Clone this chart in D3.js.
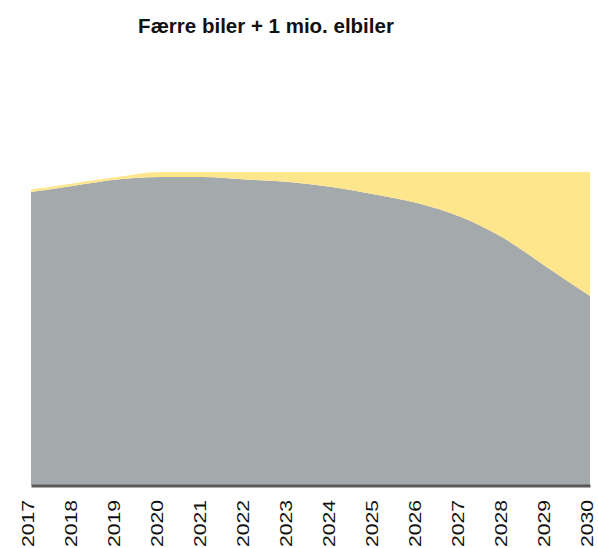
<!DOCTYPE html>
<html>
<head>
<meta charset="utf-8">
<script src="https://cdn.jsdelivr.net/npm/d3@7"></script>
<style>
  body { margin: 0; background: #fff; }
  svg { display: block; font-family: "Liberation Sans", Arial, sans-serif; }
</style>
</head>
<body>
<svg id="chart" width="598" height="548"></svg>
<script>
// years on the x axis
const years = [2017, 2018, 2019, 2020, 2021, 2022, 2023, 2024, 2025, 2026, 2027, 2028, 2029, 2030];
// conventional cars, mio.
const konventionelle = [2.34, 2.39, 2.44, 2.46, 2.46, 2.44, 2.42, 2.38, 2.32, 2.25, 2.14, 1.97, 1.74, 1.51];
// electric cars, mio.
const elbiler = [0.02, 0.02, 0.02, 0.04, 0.04, 0.06, 0.08, 0.12, 0.18, 0.25, 0.36, 0.53, 0.76, 0.99];

const svg = d3.select("#chart");

const xScale = d3.scaleLinear().domain([2017, 2030]).range([31, 590]);
const yScale = d3.scaleLinear().domain([0, 2.5]).range([485, 172]);

const rows = years.map((y, i) => ({ year: y, konv: konventionelle[i], el: elbiler[i] }));
const series = d3.stack().keys(["konv", "el"])(rows);
const fills = { konv: "#a4aaab", el: "#fee68c" };

const area = d3
  .area()
  .curve(d3.curveMonotoneX)
  .x((d) => xScale(d.data.year))
  .y0((d) => yScale(d[0]))
  .y1((d) => yScale(d[1]));

svg
  .append("g")
  .selectAll("path")
  .data(series)
  .join("path")
  .attr("fill", (d) => fills[d.key])
  .attr("d", area);

// x axis
const xAxis = svg
  .append("g")
  .attr("transform", "translate(0,485.5)")
  .call(
    d3.axisBottom(xScale)
      .tickValues(years)
      .tickFormat(d3.format("d"))
      .tickSize(0)
      .tickSizeOuter(0)
  );

xAxis.select(".domain").attr("stroke", "#595959").attr("stroke-width", 3);

xAxis
  .selectAll("text")
  .attr("fill", "#111")
  .style("font-size", "16px")
  .attr("text-anchor", "end")
  .attr("x", 0)
  .attr("y", 0)
  .attr("dy", 0)
  .attr("transform", "translate(2.5,14.5) rotate(-90) scale(1.32,1)");

// title
svg
  .append("text")
  .attr("x", 266)
  .attr("y", 33)
  .attr("text-anchor", "middle")
  .style("font-size", "20.5px")
  .style("font-weight", "bold")
  .attr("fill", "#111")
  .text("Færre biler + 1 mio. elbiler");
</script>
</body>
</html>
